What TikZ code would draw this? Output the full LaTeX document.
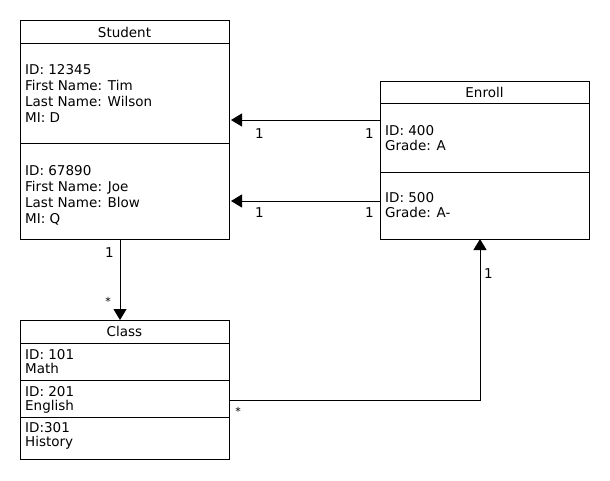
\documentclass[tikz,border=0pt]{standalone}
\usepackage{fontspec}
\setmainfont{DejaVu Sans}
\usetikzlibrary{arrows.meta}
\begin{document}
\begin{tikzpicture}[x=1pt,y=-1pt,
  box/.style={draw=black, line width=1pt, inner sep=0pt, outer sep=0pt, anchor=north west, minimum width=209pt},
  txt/.style={inner sep=0pt, font=\fontsize{13.5}{16}\selectfont, anchor=base west},
  ttl/.style={inner sep=0pt, font=\fontsize{13.5}{16}\selectfont},
  mult/.style={inner sep=0pt, font=\fontsize{13.5}{16}\selectfont, anchor=base},
  star/.style={inner sep=0pt, font=\fontsize{11}{12}\selectfont},
  arr/.style={line width=1pt, -{Triangle[length=11pt,width=13pt]}}
]
\useasboundingbox (0,0) rectangle (610,480);
\fill[white] (0,0) rectangle (610,480);

% Student
\node[box, minimum height=23pt] (st) at (20,20) {};
\node[box, minimum height=100pt] (s1) at (20,43) {};
\node[box, minimum height=96pt] (s2) at (20,143) {};
\node[ttl] (stT) at (124.5,32) {Student};
\node[txt] (s1a) at (25,74) {ID: 12345};
\node[txt] (s1b) at (25,90) {First Name: Tim};
\node[txt] (s1c) at (25,106) {Last Name: Wilson};
\node[txt] (s1d) at (25,122) {MI: D};
\node[txt] (s2a) at (25,175.5) {ID: 67890};
\node[txt] (s2b) at (25,191) {First Name: Joe};
\node[txt] (s2c) at (25,207) {Last Name: Blow};
\node[txt] (s2d) at (25,223) {MI: Q};

% Enroll
\node[box, minimum height=22pt] (et) at (380,81) {};
\node[box, minimum height=69pt] (e1) at (380,103) {};
\node[box, minimum height=67pt] (e2) at (380,172) {};
\node[ttl] (etT) at (484.5,92.5) {Enroll};
\node[txt] (e1a) at (385,135) {ID: 400};
\node[txt] (e1b) at (385,150.5) {Grade: A};
\node[txt] (e2a) at (385,202) {ID: 500};
\node[txt] (e2b) at (385,217.5) {Grade: A-};

% Class
\node[box, minimum height=23pt] (ct) at (20,320) {};
\node[box, minimum height=37pt] (c1) at (20,343) {};
\node[box, minimum height=37pt] (c2) at (20,380) {};
\node[box, minimum height=42pt] (c3) at (20,417) {};
\node[ttl] (ctT) at (124.5,331.5) {Class};
\node[txt] (c1a) at (25,359.5) {ID: 101};
\node[txt] (c1b) at (25,373.5) {Math};
\node[txt] (c2a) at (25,396) {ID: 201};
\node[txt] (c2b) at (25,410) {English};
\node[txt] (c3a) at (25,432.5) {ID:301};
\node[txt] (c3b) at (25,446.5) {History};

% connectors
\coordinate (h1) at (0,120);
\coordinate (h2) at (0,201);
\coordinate (h3) at (0,400);
\coordinate (v1) at (120,0);
\coordinate (v2) at (480,0);

\draw[arr] (e1.west |- h1) -- ([xshift=2pt]s1.east |- h1);
\draw[arr] (e2.west |- h2) -- ([xshift=2pt]s2.east |- h2);
\draw[arr] (s2.south -| v1) -- (ct.north -| v1);
\draw[arr] (c2.east |- h3) -| (e2.south -| v2);

% multiplicities
\node[mult] (m1) at (259.5,138) {1};
\node[mult] (m2) at (369.5,138) {1};
\node[mult] (m3) at (259.5,217.5) {1};
\node[mult] (m4) at (369.5,217.5) {1};
\node[mult] (m5) at (109.5,257.5) {1};
\node[star] (m6) at (108,301) {*};
\node[star] (m7) at (238,411) {*};
\node[mult] (m8) at (488.5,278) {1};
\end{tikzpicture}
\end{document}
